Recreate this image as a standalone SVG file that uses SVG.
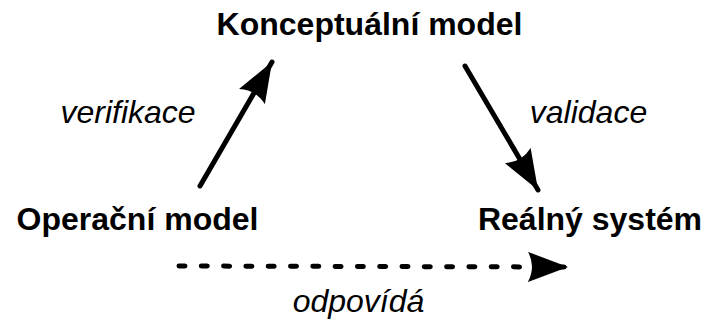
<svg xmlns="http://www.w3.org/2000/svg" width="707" height="322" viewBox="0 0 707 322">
<style>
.b{font-family:"Liberation Sans",Arial,sans-serif;font-weight:bold;font-size:32px;fill:#000;text-anchor:middle}
.i{font-family:"Liberation Sans",Arial,sans-serif;font-style:italic;font-size:32px;fill:#000;text-anchor:middle}
.ln{stroke:#000;stroke-width:5;fill:none;stroke-linecap:round}
</style>
<defs>
<marker id="ah" viewBox="0 0 40 30" refX="40" refY="15" markerWidth="40" markerHeight="30" markerUnits="userSpaceOnUse" orient="auto">
<path d="M0,0 L40,15 L0,30 Q8,15 0,0 Z" fill="#000"/>
</marker>
</defs>
<g id="n1"><text class="b" x="369.5" y="35">Konceptuální model</text></g>
<g id="n2"><text class="b" x="137.5" y="230">Operační model</text></g>
<g id="n3"><text class="b" x="590" y="230">Reálný systém</text></g>
<g id="labels">
<text class="i" x="128" y="123">verifikace</text>
<text class="i" x="588.5" y="123">validace</text>
<text class="i" x="358.5" y="312">odpovídá</text>
</g>
<g id="connectors">
<line class="ln" x1="200" y1="186" x2="272" y2="62" marker-end="url(#ah)"/>
<line class="ln" x1="465" y1="66" x2="538" y2="190" marker-end="url(#ah)"/>
<line class="ln" x1="179" y1="266" x2="568" y2="267" stroke-dasharray="6 16.3" marker-end="url(#ah)"/>
</g>
</svg>
